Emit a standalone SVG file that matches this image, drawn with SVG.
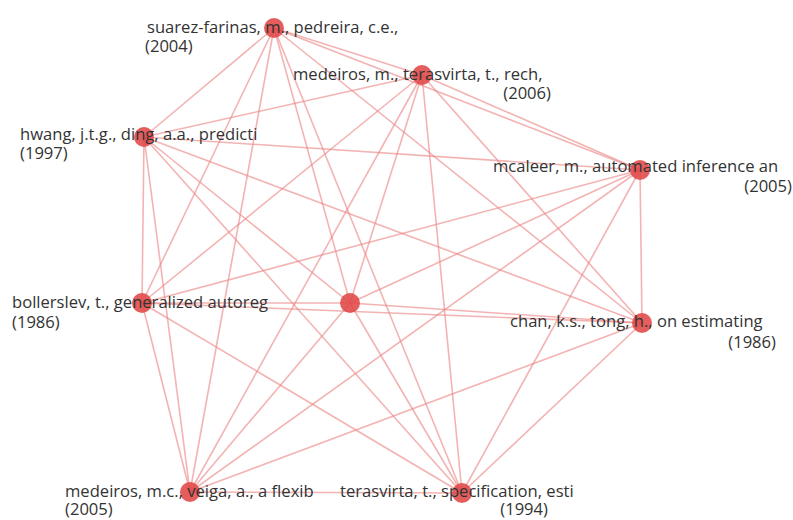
<svg xmlns="http://www.w3.org/2000/svg" width="793" height="520" viewBox="0 0 793 520">
<style>
.e{stroke:#ec8585;stroke-width:1.6;stroke-opacity:0.62;fill:none}
.n{fill:#e04848;fill-opacity:0.88}
.t{font-family:"Open Sans","Noto Sans",sans-serif;font-size:16.6px;fill:#333}
.r{text-anchor:end}
</style>
<rect width="793" height="520" fill="#fff"/>
<g id="connectors">
<line class="e" x1="274" y1="28" x2="422" y2="75"/>
<line class="e" x1="274" y1="28" x2="144" y2="137"/>
<line class="e" x1="274" y1="28" x2="640" y2="170"/>
<line class="e" x1="274" y1="28" x2="142" y2="303"/>
<line class="e" x1="274" y1="28" x2="350" y2="303"/>
<line class="e" x1="274" y1="28" x2="642" y2="323"/>
<line class="e" x1="274" y1="28" x2="190" y2="492"/>
<line class="e" x1="274" y1="28" x2="462" y2="493"/>
<line class="e" x1="422" y1="75" x2="144" y2="137"/>
<line class="e" x1="422" y1="75" x2="640" y2="170"/>
<line class="e" x1="422" y1="75" x2="142" y2="303"/>
<line class="e" x1="422" y1="75" x2="350" y2="303"/>
<line class="e" x1="422" y1="75" x2="642" y2="323"/>
<line class="e" x1="422" y1="75" x2="190" y2="492"/>
<line class="e" x1="422" y1="75" x2="462" y2="493"/>
<line class="e" x1="144" y1="137" x2="640" y2="170"/>
<line class="e" x1="144" y1="137" x2="142" y2="303"/>
<line class="e" x1="144" y1="137" x2="350" y2="303"/>
<line class="e" x1="144" y1="137" x2="642" y2="323"/>
<line class="e" x1="144" y1="137" x2="190" y2="492"/>
<line class="e" x1="144" y1="137" x2="462" y2="493"/>
<line class="e" x1="640" y1="170" x2="142" y2="303"/>
<line class="e" x1="640" y1="170" x2="350" y2="303"/>
<line class="e" x1="640" y1="170" x2="642" y2="323"/>
<line class="e" x1="640" y1="170" x2="190" y2="492"/>
<line class="e" x1="640" y1="170" x2="462" y2="493"/>
<line class="e" x1="142" y1="303" x2="350" y2="303"/>
<line class="e" x1="142" y1="303" x2="642" y2="323"/>
<line class="e" x1="142" y1="303" x2="190" y2="492"/>
<line class="e" x1="142" y1="303" x2="462" y2="493"/>
<line class="e" x1="350" y1="303" x2="642" y2="323"/>
<line class="e" x1="350" y1="303" x2="190" y2="492"/>
<line class="e" x1="350" y1="303" x2="462" y2="493"/>
<line class="e" x1="642" y1="323" x2="190" y2="492"/>
<line class="e" x1="642" y1="323" x2="462" y2="493"/>
<line class="e" x1="190" y1="492" x2="462" y2="493"/>
</g>
<g id="n-suarez"><circle class="n" cx="274" cy="28" r="10"/><text class="t" x="147" y="33">suarez-farinas, m., pedreira, c.e.,</text><text class="t" x="145" y="52">(2004)</text></g>
<g id="n-medeiros2006"><circle class="n" cx="422" cy="75" r="10"/><text class="t" x="293" y="80">medeiros, m., terasvirta, t., rech,</text><text class="t r" x="551" y="99">(2006)</text></g>
<g id="n-hwang"><circle class="n" cx="144" cy="137" r="10"/><text class="t" x="20" y="140">hwang, j.t.g., ding, a.a., predicti</text><text class="t" x="20" y="159">(1997)</text></g>
<g id="n-mcaleer"><circle class="n" cx="640" cy="170" r="10"/><text class="t" x="493" y="172">mcaleer, m., automated inference an</text><text class="t r" x="792" y="192">(2005)</text></g>
<g id="n-bollerslev"><circle class="n" cx="142" cy="303" r="10"/><text class="t" x="12" y="308">bollerslev, t., generalized autoreg</text><text class="t" x="12" y="328">(1986)</text></g>
<g id="n-center"><circle class="n" cx="350" cy="303" r="10"/></g>
<g id="n-chan"><circle class="n" cx="642" cy="323" r="10"/><text class="t" x="510" y="327">chan, k.s., tong, h., on estimating</text><text class="t r" x="776" y="348">(1986)</text></g>
<g id="n-medeiros2005"><circle class="n" cx="190" cy="492" r="10"/><text class="t" x="65" y="497">medeiros, m.c., veiga, a., a flexib</text><text class="t" x="65" y="515">(2005)</text></g>
<g id="n-terasvirta"><circle class="n" cx="462" cy="493" r="10"/><text class="t" x="340" y="497">terasvirta, t., specification, esti</text><text class="t r" x="548" y="515">(1994)</text></g>
</svg>
